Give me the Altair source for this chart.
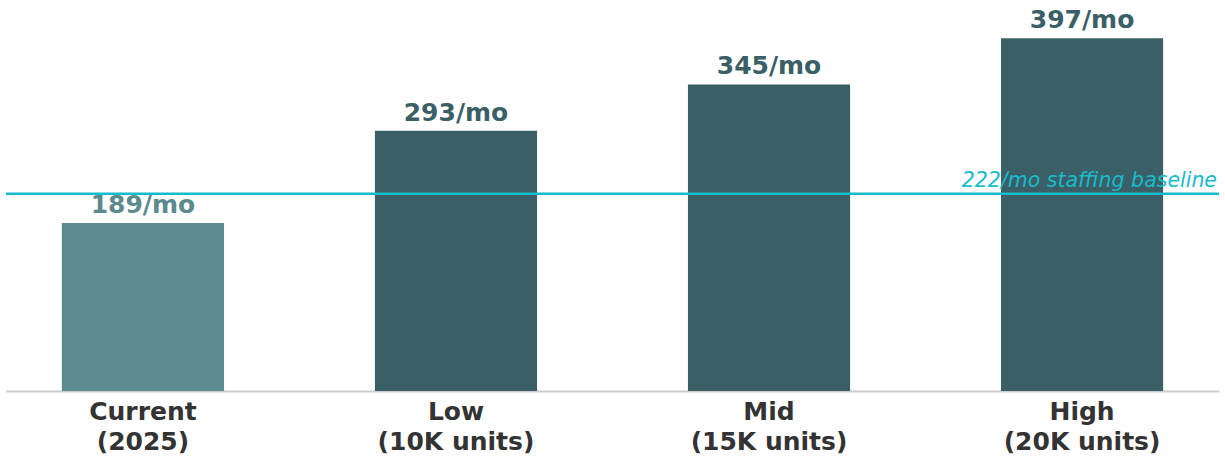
import altair as alt
import pandas as pd

# Monthly staffing need per growth scenario
scenarios = ["Current\n(2025)", "Low\n(10K units)", "Mid\n(15K units)", "High\n(20K units)"]
monthly = [189, 293, 345, 397]
is_current = [True, False, False, False]
baseline_value = 222
baseline_label = "222/mo staffing baseline"

df = pd.DataFrame({
    "scenario": scenarios,
    "monthly": monthly,
    "current": is_current,
})
df["label"] = df["monthly"].astype(str) + "/mo"

base_df = pd.DataFrame({"value": [baseline_value], "text": [baseline_label]})

FONT = "DejaVu Sans"
DARK = "#3a5f66"
LIGHT = "#5b8a8f"
CYAN = "#17bccc"

x_enc = alt.X(
    "scenario:N",
    sort=scenarios,
    title=None,
    scale=alt.Scale(paddingInner=0.482, paddingOuter=0.1785),
    axis=alt.Axis(
        labelAngle=0,
        labelExpr="split(datum.label, '\\n')",
        labelFont=FONT,
        labelFontSize=25,
        labelFontWeight="bold",
        labelColor="#333333",
        labelLineHeight=30,
        labelPadding=8,
        ticks=False,
        domainColor="#cccccc",
        domainWidth=2,
        grid=False,
    ),
)
y_scale = alt.Scale(domain=[0, 440], nice=False, zero=True)
y_enc = alt.Y("monthly:Q", scale=y_scale, axis=None)
color_enc = alt.Color(
    "current:N",
    scale=alt.Scale(domain=[True, False], range=[LIGHT, DARK]),
    legend=None,
)

bars = alt.Chart(df).mark_bar().encode(x=x_enc, y=y_enc, color=color_enc)

rule = alt.Chart(base_df).mark_rule(color=CYAN, strokeWidth=2.5).encode(
    y=alt.Y("value:Q", scale=y_scale, axis=None)
)

values = alt.Chart(df).mark_text(
    font=FONT, fontSize=25, fontWeight="bold", baseline="alphabetic", dy=-10
).encode(
    x=alt.X("scenario:N", sort=scenarios),
    y=y_enc,
    text="label:N",
    color=color_enc,
)

base_text = alt.Chart(base_df).mark_text(
    font=FONT, fontSize=20.5, fontStyle="italic", align="right",
    baseline="alphabetic", dy=-7, color=CYAN,
).encode(
    x=alt.value(1211),
    y=alt.Y("value:Q", scale=y_scale, axis=None),
    text="text:N",
)

chart = (
    alt.layer(bars, rule, values, base_text)
    .properties(
        width=1213,
        height=391,
        autosize=alt.AutoSizeParams(type="none"),
        padding={"left": 6, "top": 0, "right": 6, "bottom": 68},
        background="white",
    )
    .configure_view(stroke=None)
)

chart.save("out.html", embed_options={"renderer": "svg", "actions": False})
